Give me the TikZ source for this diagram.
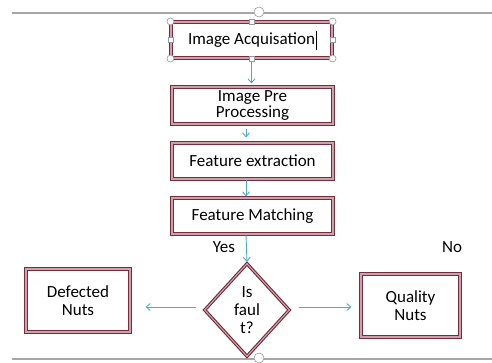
\documentclass[tikz,border=0pt]{standalone}
\usepackage{fontspec}
\setmainfont{Carlito}
\usetikzlibrary{arrows.meta, shapes.geometric}
\definecolor{boxred}{RGB}{115,45,60}
\definecolor{boxpink}{RGB}{205,160,170}
\definecolor{flowblue}{RGB}{75,172,198}
\tikzset{
    stage/.style={rectangle, draw=boxred, double=boxpink, double distance=1.1pt, line width=1.1pt, inner sep=0pt, align=center}, % 流程框
    decide/.style={diamond, draw=boxred, double=boxpink, double distance=1.1pt, line width=1.1pt, inner sep=0pt, align=center}, % 判断框
    flow/.style={flowblue, line width=0.9pt, -{Straight Barb[length=4pt, width=7pt]}}, % 连线
    handle/.style={circle, draw=gray!80, fill=white, line width=0.6pt, inner sep=0pt, minimum size=7pt}, % 选中控点
    sqhandle/.style={rectangle, draw=gray!80, fill=white, line width=0.6pt, inner sep=0pt, minimum size=5pt}
}

\begin{document}
\begin{tikzpicture}[x=1pt, y=-1pt, font=\fontsize{17}{17}\selectfont]
    \useasboundingbox (0,0) rectangle (492,363);
    \def\ymid{307}

    % 页面分隔线
    \draw[gray!70, line width=1.4pt] (12,13) -- (492,13);
    \draw[gray!70, line width=1.4pt] (12,359) -- (492,359);

    \node[stage, minimum width=161, minimum height=36] (acq) at (251.5,40) {Image Acquisation};
    \node[stage, minimum width=161, minimum height=37] (pre) at (252.5,105.5) {Image Pre\\[-1pt]Processing};
    \node[stage, minimum width=161, minimum height=36] (ext) at (252.5,161) {Feature extraction};
    \node[stage, minimum width=161, minimum height=36] (match) at (252.5,216) {Feature Matching};
    \node[decide, minimum width=85, minimum height=93, font=\fontsize{17}{18.3}\selectfont] (fault) at (247,310) {Is\\faul\\t?};
    \node[stage, minimum width=104, minimum height=63, font=\fontsize{17}{18.3}\selectfont] (defect) at (78,300.5) {Defected\\Nuts};
    \node[stage, minimum width=99, minimum height=63, font=\fontsize{17}{18.3}\selectfont] (quality) at (410.5,305.5) {Quality\\Nuts};

    \node (yes) at (224,247) {Yes};
    \node (no) at (452,247) {No};

    \draw[flow, shorten >=3pt] (acq.south) -- (acq.south |- pre.north);
    \draw[flow, shorten <=4pt, shorten >=5pt] (246,0 |- pre.south) -- (246,0 |- ext.north);
    \draw[flow, shorten >=1pt] (246,0 |- ext.south) -- (246,0 |- match.north);
    \draw[flow, shorten >=1pt] (246,0 |- match.south) -- (fault.north);
    \draw[flow, shorten <=8pt, shorten >=15pt] (fault.west |- 0,\ymid) -- (defect.east |- 0,\ymid);
    \draw[flow, shorten <=9pt, shorten >=9pt] (fault.east |- 0,\ymid) -- (quality.west |- 0,\ymid);

    % 文本光标与选中控点
    \draw[black, line width=0.7pt] (316.5,31) -- (316.5,50);
    \foreach \p in {north west, north east, south west, south east} {\node[handle] at (acq.\p) {};}
    \foreach \p in {north, south, west, east} {\node[sqhandle] at (acq.\p) {};}
    \node[handle, minimum size=10pt] (rot) at (259,12) {};
    \node[handle, minimum size=10pt] (rotb) at (259,358) {};
\end{tikzpicture}
\end{document}
